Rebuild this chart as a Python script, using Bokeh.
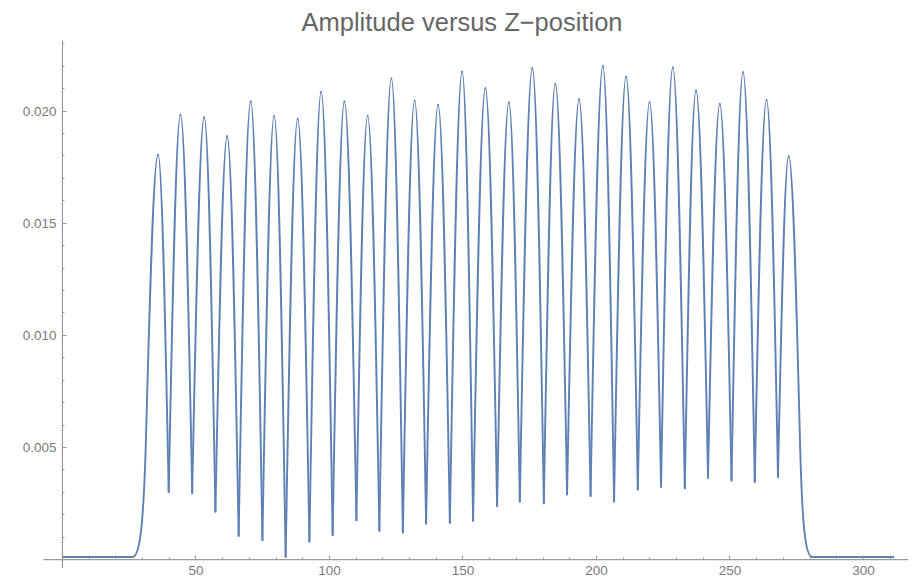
from bokeh.plotting import figure
from bokeh.models import Range1d, FixedTicker, ColumnDataSource
from bokeh.embed import file_html
from bokeh.resources import INLINE

title_text = "Amplitude versus Z\u2212position"

# peaks (z, amplitude)
peak_z = [35.8, 44.2, 53.1, 61.7, 70.5, 79.3, 88.1, 96.9, 105.6, 114.3, 123.2, 131.9, 140.7, 149.7,
          158.4, 167.2, 176.0, 184.6, 193.5, 202.4, 211.1, 219.9, 228.6, 237.3, 246.2, 254.9, 263.7, 272.0]
peak_amp = [0.01806, 0.01984, 0.01973, 0.01888, 0.02043, 0.01979, 0.01965, 0.02087, 0.02043, 0.01979,
            0.02146, 0.02047, 0.02028, 0.02176, 0.02102, 0.02039, 0.02191, 0.02121, 0.02053, 0.02201,
            0.02154, 0.02039, 0.02195, 0.02092, 0.02032, 0.02174, 0.02050, 0.01799]
# valleys between peaks
valley_z = [39.8, 48.6, 57.3, 66.0, 74.9, 83.6, 92.5, 101.2, 110.1, 118.7, 127.5, 136.2, 145.1, 153.8,
            162.8, 171.3, 180.3, 189.0, 197.8, 206.6, 215.5, 224.2, 233.1, 241.8, 250.6, 259.3, 268.0]
valley_amp = [0.00302, 0.00297, 0.00214, 0.00106, 0.00087, 0.00013, 0.00081, 0.00110, 0.00176, 0.00129,
              0.00121, 0.00161, 0.00165, 0.00173, 0.00239, 0.00259, 0.00251, 0.00291, 0.00284, 0.00259,
              0.00313, 0.00325, 0.00318, 0.00365, 0.00353, 0.00346, 0.00369]
# rising and falling edges and flat baseline
rise_z = [26.3, 31.3]
rise_amp = [0.00012, 0.0055]
fall_z = [276.3, 280.8]
fall_amp = [0.0050, 0.00012]
base_left_z = [0.0, 26.3]
base_right_z = [280.8, 311.5]
base_amp = [0.00012, 0.00012]

# axis extents (plot range of the original)
x_axis_span = [-7.1, 316.8]
y_axis_span = [-0.00037, 0.02315]

x_major_ticks = [50, 100, 150, 200, 250, 300]
x_tick_labels = ["50", "100", "150", "200", "250", "300"]
x_minor_ticks = [10, 20, 30, 40, 60, 70, 80, 90, 110, 120, 130, 140, 160, 170, 180, 190,
                 210, 220, 230, 240, 260, 270, 280, 290, 310]
y_major_ticks = [0.005, 0.010, 0.015, 0.020]
y_tick_labels = ["0.005", "0.010", "0.015", "0.020"]
y_minor_ticks = [0.001, 0.002, 0.003, 0.004, 0.006, 0.007, 0.008, 0.009, 0.011, 0.012, 0.013, 0.014,
                 0.016, 0.017, 0.018, 0.019, 0.021, 0.022, 0.023]

# ---- build bezier segments from the read points ----
SX1, SY1, SX2 = 0.3343, 0.5251, 0.6395   # quarter-sine bezier shape
segs = dict(x0=[], y0=[], x1=[], y1=[], cx0=[], cy0=[], cx1=[], cy1=[])


def add(p0, c0, c1, p1):
    segs["x0"].append(p0[0]); segs["y0"].append(p0[1])
    segs["cx0"].append(c0[0]); segs["cy0"].append(c0[1])
    segs["cx1"].append(c1[0]); segs["cy1"].append(c1[1])
    segs["x1"].append(p1[0]); segs["y1"].append(p1[1])


def up(v, pk):
    dx = pk[0] - v[0]; dy = pk[1] - v[1]
    add(v, (v[0] + SX1 * dx, v[1] + SY1 * dy), (v[0] + SX2 * dx, pk[1]), pk)


def down(pk, v):
    dx = v[0] - pk[0]; dy = pk[1] - v[1]
    add(pk, (pk[0] + (1 - SX2) * dx, pk[1]), (pk[0] + (1 - SX1) * dx, v[1] + SY1 * dy), v)


r0 = (rise_z[0], rise_amp[0]); r1 = (rise_z[1], rise_amp[1])
dx = r1[0] - r0[0]; dy = r1[1] - r0[1]
add(r0, (r0[0] + 0.55 * dx, r0[1]), (r1[0] - 0.18 * dx, r1[1] - 0.73 * dy), r1)
up(r1, (peak_z[0], peak_amp[0]))
for i in range(len(valley_z)):
    down((peak_z[i], peak_amp[i]), (valley_z[i], valley_amp[i]))
    up((valley_z[i], valley_amp[i]), (peak_z[i + 1], peak_amp[i + 1]))
f0 = (fall_z[0], fall_amp[0]); f1 = (fall_z[1], fall_amp[1])
down((peak_z[-1], peak_amp[-1]), f0)
dx = f1[0] - f0[0]; dy = f0[1] - f1[1]
add(f0, (f0[0] + 0.18 * dx, f0[1] - 0.73 * dy), (f1[0] - 0.55 * dx, f1[1]), f1)

LINE = "#5E81B5"
AXC = "#9a9a9a"
p = figure(width=923, height=582, x_range=Range1d(-23.2, 322.5), y_range=Range1d(-0.00102, 0.02315),
           output_backend="svg", toolbar_location=None,
           min_border_left=0, min_border_right=0, min_border_top=37, min_border_bottom=0)
p.title.text = title_text
p.title.align = "center"
p.title.text_font = "Liberation Sans"
p.title.text_font_size = "25.5px"
p.title.text_font_style = "normal"
p.title.text_color = "#666666"
p.outline_line_color = None
p.xgrid.visible = False
p.ygrid.visible = False
p.background_fill_color = "white"
p.border_fill_color = "white"

# axis lines over the original plot range
p.line(x_axis_span, [0, 0], line_color=AXC, line_width=1.2)
p.line([0, 0], y_axis_span, line_color=AXC, line_width=1.2)

p.line(base_left_z, base_amp, line_color=LINE, line_width=1.9)
p.line(base_right_z, base_amp, line_color=LINE, line_width=1.9)
p.bezier(source=ColumnDataSource(segs), x0="x0", y0="y0", x1="x1", y1="y1",
         cx0="cx0", cy0="cy0", cx1="cx1", cy1="cy1", line_color=LINE, line_width=1.9,
         line_cap="round", line_join="round")

for ax in (p.xaxis[0], p.yaxis[0]):
    ax.fixed_location = 0
    ax.axis_line_color = None
    ax.major_tick_line_color = AXC
    ax.minor_tick_line_color = AXC
    ax.major_tick_line_width = 1.1
    ax.minor_tick_line_width = 1.0
    ax.major_tick_in = 4
    ax.major_tick_out = 0
    ax.minor_tick_in = 2
    ax.minor_tick_out = 0
    ax.major_label_text_font = "Liberation Sans"
    ax.major_label_text_font_size = "13.5px"
    ax.major_label_text_color = "#7a7a7a"

p.xaxis[0].ticker = FixedTicker(ticks=x_major_ticks, minor_ticks=x_minor_ticks)
p.xaxis[0].major_label_overrides = {t: l for t, l in zip(x_major_ticks, x_tick_labels)}
p.xaxis[0].major_label_standoff = 6
p.yaxis[0].ticker = FixedTicker(ticks=y_major_ticks, minor_ticks=y_minor_ticks)
p.yaxis[0].major_label_overrides = {t: l for t, l in zip(y_major_ticks, y_tick_labels)}
p.yaxis[0].major_label_standoff = 6

open("out.html", "w").write(file_html(p, INLINE))
